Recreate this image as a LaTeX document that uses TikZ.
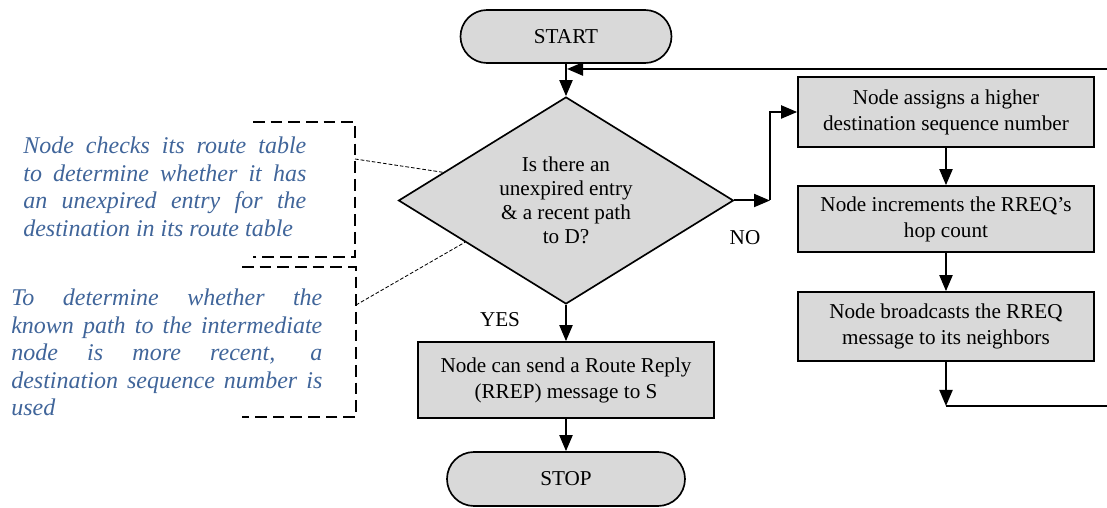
\documentclass[tikz,border=0pt]{standalone}
\usepackage{fontspec}
\setmainfont{Liberation Serif}
\usetikzlibrary{shapes.geometric,shapes.misc,arrows.meta,calc}
\definecolor{boxgray}{HTML}{D9D9D9}
\definecolor{notecol}{HTML}{40659A}
\tikzset{
  flowline/.style={line width=1.2pt,-{Triangle[length=9.6pt,width=7.8pt]}},
  stepbox/.style={draw,line width=1pt,fill=boxgray,rectangle,inner sep=0pt,
    minimum width=177.6pt,align=center,font=\fontsize{12.7}{15.6}\selectfont},
  terminal/.style={draw,line width=1pt,fill=boxgray,rounded rectangle,inner sep=0pt,
    font=\fontsize{12.7}{15.6}\selectfont},
  decision/.style={draw,line width=1pt,fill=boxgray,diamond,shape aspect=1.6,inner sep=0pt,
    align=center,font=\fontsize{12.7}{14.4}\selectfont},
  note/.style={inner sep=0pt,anchor=north west,align=justify,text=notecol,
    font=\fontsize{14.4}{16.5}\selectfont\itshape},
  bracket/.style={line width=1.2pt,dash pattern=on 7pt off 3.6pt},
  pointer/.style={line width=0.5pt,dash pattern=on 2.2pt off 1.2pt},
  tag/.style={inner sep=0pt,font=\fontsize{12.7}{15.6}\selectfont}
}
\begin{document}
\begin{tikzpicture}[x=0.6pt,y=-0.6pt]
\useasboundingbox (0,0) rectangle (1107,508);

% main column
\node[terminal,minimum width=126.6pt,minimum height=31.8pt] (start) at (566,36.5) {START};
\node[decision,minimum width=201pt,minimum height=124.2pt] (dec) at (566,200.5)
  {Is there an\\unexpired entry\\\& a recent path\\to D?};
\node[stepbox,minimum height=45.6pt] (reply) at (566,380)
  {Node can send a Route Reply\\(RREP) message to S};
\node[terminal,minimum width=142.8pt,minimum height=32.4pt] (stop) at (566,479) {STOP};

% right column
\node[stepbox,minimum height=42pt] (assign) at (946,112)
  {Node assigns a higher\\destination sequence number};
\node[stepbox,minimum height=39.6pt] (incr) at (946,219)
  {Node increments the RREQ’s\\hop count};
\node[stepbox,minimum height=41.4pt] (bcast) at (946,326.5)
  {Node broadcasts the RREQ\\message to its neighbors};

% labels
\node[tag] (no) at (745,238) {NO};
\node[tag] (yes) at (500,320) {YES};

% connectors
\coordinate (join) at (566,69);
\coordinate (noturn) at (770,200.5);
\coordinate (loopdown) at (946,406);
\coordinate (loopright) at (1118,406);
\coordinate (looptop) at (1118,69);

\draw[flowline] (start.south) -- (dec.north);
\draw[flowline] (dec.south) -- (reply.north);
\draw[flowline] (reply.south) -- (stop.north);
\draw[flowline] (dec.east) -- (noturn);
\draw[flowline] (noturn) |- (assign.west);
\draw[flowline] (assign.south) -- (incr.north);
\draw[flowline] (incr.south) -- (bcast.north);
\draw[flowline] (bcast.south) -- (loopdown);
\draw[line width=0.9pt] (loopdown) -- (loopright) -- (looptop);
\draw[line width=1.5pt,-{Triangle[length=9.6pt,width=7.8pt]}] (looptop) -- ([xshift=0.6pt]join);

% annotations
\draw[bracket] (253,122) -- (355,122) -- (355,257) -- (253,257);
\draw[bracket] (242,267) -- (356,267) -- (356,417) -- (242,417);
\coordinate (ann1) at (355,159);
\coordinate (ann2) at (356,305);
\draw[pointer] (ann1) -- ($(dec.north)!0.73!(dec.west)$);
\draw[pointer] (ann2) -- ($(dec.west)!0.4!(dec.south)$);

\node[note,text width=169.8pt] (note1) at (23,137)
  {Node checks its route table\linebreak to determine whether it has\linebreak an unexpired entry for the\linebreak destination in its route table};
\node[note,text width=186.6pt] (note2) at (11,289)
  {To determine whether the\linebreak known path to the intermediate\linebreak node is more recent, a\linebreak destination sequence number is\linebreak used};
\end{tikzpicture}
\end{document}
